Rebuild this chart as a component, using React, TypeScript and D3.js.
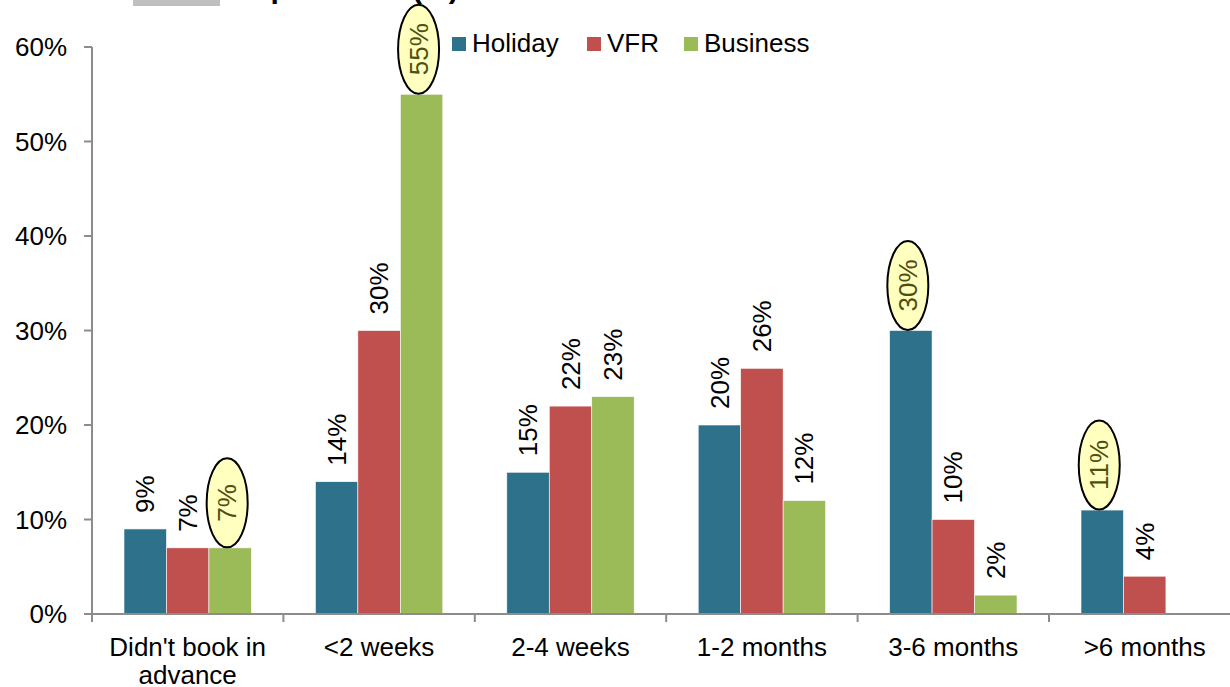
import React from "react";
import * as d3 from "d3";

const categories = ["Didn't book in|advance", "<2 weeks", "2-4 weeks", "1-2 months", "3-6 months", ">6 months"];
const seriesNames = ["Holiday", "VFR", "Business"];
const holiday = [9, 14, 15, 20, 30, 11];
const vfr = [7, 30, 22, 26, 10, 4];
const business: (number | null)[] = [7, 55, 23, 12, 2, null];
// which labels get the yellow bubble: [series, category]
const highlights = [
  [2, 0],
  [2, 1],
  [0, 4],
  [0, 5],
];
const yTicks = [0, 10, 20, 30, 40, 50, 60];
const colors = ["#2E718A", "#C0504D", "#9BBB59"];

const width = 1230;
const height = 687;
const margin = { top: 47, left: 92, bottom: 73 };
const font = "'Liberation Sans', Arial, sans-serif";

export default function App() {
  const seriesValues = [holiday, vfr, business];

  const x = d3
    .scaleBand<string>()
    .domain(categories)
    .range([margin.left, margin.left + 6 * 191.4])
    .padding(0);

  const xInner = d3
    .scaleBand<string>()
    .domain(seriesNames)
    .range([32, x.bandwidth() - 32]);

  const y = d3
    .scaleLinear()
    .domain([0, 60])
    .range([height - margin.bottom, margin.top]);

  const isHi = (s: number, c: number) => highlights.some((h) => h[0] === s && h[1] === c);
  const axisColor = "#8C8C8C";

  return (
    <svg
      width={width}
      height={height}
      style={{ position: "absolute", left: 0, top: 0, background: "#fff" }}
      fontFamily={font}
    >
      {/* title, cut off at the top */}
      <rect x={133} y={-30} width={87} height={36} fill="#BFBFBF" />
      <text x={137} y={-2} fontSize={30} fontWeight="bold" fill="#000">
        Advance purchase (%)
      </text>

      {/* bars */}
      {seriesValues.map((vals, s) =>
        vals.map((v, c) =>
          v == null ? null : (
            <rect
              key={`b${s}-${c}`}
              x={x(categories[c])! + xInner(seriesNames[s])!}
              y={y(v)}
              width={xInner.bandwidth()}
              height={y(0) - y(v)}
              fill={colors[s]}
              stroke="#fff"
              strokeWidth={0.6}
            />
          )
        )
      )}

      {/* y axis */}
      <line x1={margin.left} x2={margin.left} y1={y(60)} y2={y(0)} stroke={axisColor} strokeWidth={2} />
      {yTicks.map((t) => (
        <g key={`yt${t}`}>
          <line x1={margin.left - 8} x2={margin.left} y1={y(t)} y2={y(t)} stroke={axisColor} strokeWidth={2} />
          <text x={67} y={y(t)} dy="0.35em" textAnchor="end" fontSize={26} fill="#000">
            {t}%
          </text>
        </g>
      ))}

      {/* x axis */}
      <line x1={margin.left} x2={width} y1={y(0)} y2={y(0)} stroke={axisColor} strokeWidth={2} />
      {categories.map((c, i) => (
        <g key={`xt${i}`}>
          <line
            x1={x(c)!}
            x2={x(c)!}
            y1={y(0)}
            y2={y(0) + 8}
            stroke={axisColor}
            strokeWidth={2}
          />
          <text x={x(c)! + x.bandwidth() / 2} y={656} textAnchor="middle" fontSize={26} fill="#000">
            {c.split("|").map((part, k) => (
              <tspan key={k} x={x(c)! + x.bandwidth() / 2} dy={k === 0 ? 0 : 28}>
                {part}
              </tspan>
            ))}
          </text>
        </g>
      ))}

      {/* value labels */}
      {seriesValues.map((vals, s) =>
        vals.map((v, c) => {
          if (v == null) return null;
          const cx = x(categories[c])! + xInner(seriesNames[s])! + xInner.bandwidth() / 2;
          if (isHi(s, c)) {
            const ex = cx - 3;
            const ey = y(v) - 45;
            return (
              <g key={`l${s}-${c}`}>
                <ellipse cx={ex} cy={ey} rx={20.5} ry={44.5} fill="#FFFFC0" stroke="#000" strokeWidth={2} />
                <text
                  transform={`translate(${ex},${ey}) rotate(-90)`}
                  dy="0.35em"
                  textAnchor="middle"
                  fontSize={26}
                  fill="#4F4F10"
                >
                  {v}%
                </text>
              </g>
            );
          }
          return (
            <text
              key={`l${s}-${c}`}
              transform={`translate(${cx},${y(v) - 16}) rotate(-90)`}
              dy="0.35em"
              textAnchor="start"
              fontSize={26}
              fill="#000"
            >
              {v}%
            </text>
          );
        })
      )}

      {/* legend */}
      {seriesNames.map((n, i) => {
        const lx = [452, 587, 684][i];
        return (
          <g key={`lg${n}`}>
            <rect x={lx} y={37} width={14} height={14} fill={colors[i]} />
            <text x={lx + 20} y={52} fontSize={26} fill="#000">
              {n}
            </text>
          </g>
        );
      })}
    </svg>
  );
}
